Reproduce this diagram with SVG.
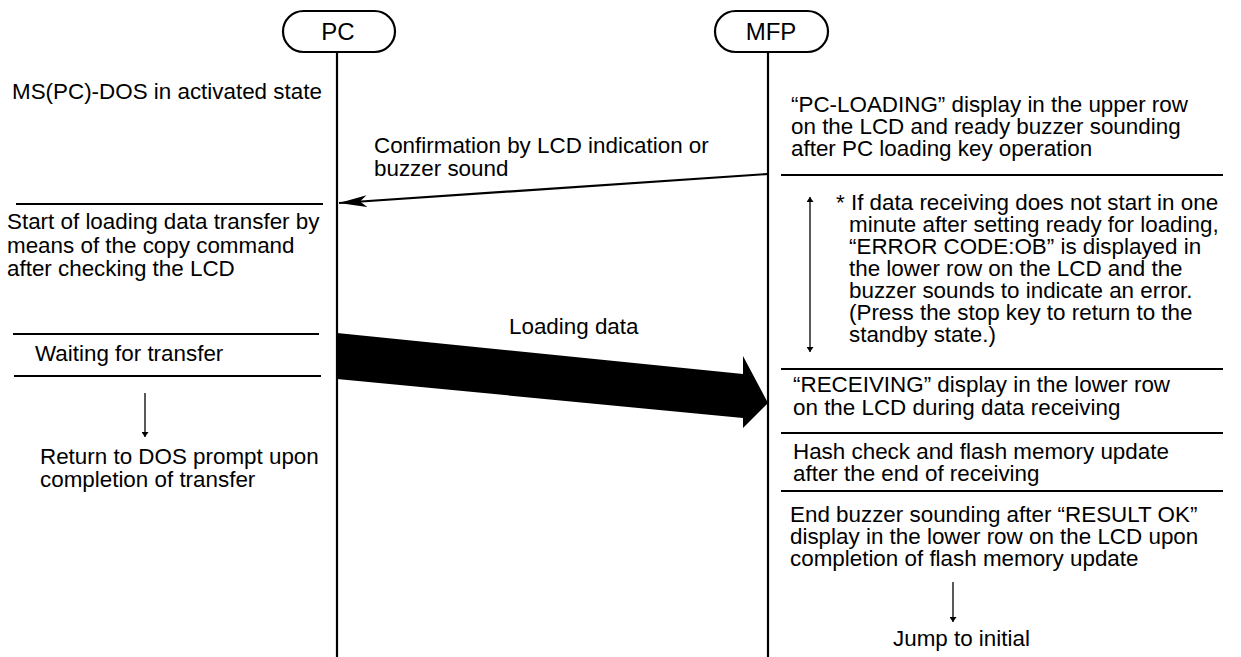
<svg xmlns="http://www.w3.org/2000/svg" width="1241" height="657" viewBox="0 0 1241 657">
<defs>
<style>
text{font-family:"Liberation Sans",Arial,sans-serif;font-size:22.4px;fill:#000}
.life{stroke:#000;stroke-width:2.2;fill:none}
.div{stroke:#000;stroke-width:2.2;fill:none}
.thin{stroke:#000;stroke-width:1.3;fill:none}
.cap{fill:#fff;stroke:#000;stroke-width:2.2}
.lbl{font-size:24px;text-anchor:middle}
</style>
<marker id="ah" viewBox="0 0 10 10" refX="10" refY="5" markerWidth="5" markerHeight="7" markerUnits="userSpaceOnUse" orient="auto-start-reverse" preserveAspectRatio="none">
<path d="M0,0 L10,5 L0,10 z" fill="#000"/>
</marker>
<marker id="ahb" viewBox="0 0 28 12" refX="28" refY="6" markerWidth="28" markerHeight="12" markerUnits="userSpaceOnUse" orient="auto">
<path d="M0,0 L28,6 L0,12 L7,6 z" fill="#000"/>
</marker>
</defs>
<g id="pc-head">
<rect class="cap" x="283" y="11" width="112" height="41" rx="20.5"/>
<text class="lbl" x="338" y="40">PC</text>
</g>
<g id="mfp-head">
<rect class="cap" x="715" y="11" width="113" height="41" rx="20.5"/>
<text class="lbl" x="771" y="40">MFP</text>
</g>
<g id="lifelines">
<line class="life" x1="337" y1="52" x2="337" y2="657"/>
<line class="life" x1="768" y1="52" x2="768" y2="657"/>
</g>
<g id="pc-state1">
<text x="12" y="99">MS(PC)-DOS in activated state</text>
</g>
<g id="pc-state2">
<line class="div" x1="16" y1="204" x2="323" y2="204"/>
<text x="7" y="229">Start of loading data transfer by</text>
<text x="7" y="253">means of the copy command</text>
<text x="7" y="276">after checking the LCD</text>
</g>
<g id="pc-state3">
<line class="div" x1="13" y1="334" x2="319" y2="334"/>
<text x="35" y="361">Waiting for transfer</text>
<line class="div" x1="14" y1="376" x2="321" y2="376"/>
</g>
<g id="pc-state4">
<text x="40" y="464">Return to DOS prompt upon</text>
<text x="40" y="487">completion of transfer</text>
</g>
<g id="mfp-state1">
<text x="791" y="112">“PC-LOADING” display in the upper row</text>
<text x="791" y="134">on the LCD and ready buzzer sounding</text>
<text x="791" y="156">after PC loading key operation</text>
<line class="div" x1="781" y1="175" x2="1223" y2="175"/>
</g>
<g id="mfp-note">
<text x="836" y="210">* If data receiving does not start in one</text>
<text x="849" y="232">minute after setting ready for loading,</text>
<text x="849" y="254">“ERROR CODE:OB” is displayed in</text>
<text x="849" y="276">the lower row on the LCD and the</text>
<text x="849" y="298">buzzer sounds to indicate an error.</text>
<text x="849" y="320">(Press the stop key to return to the</text>
<text x="849" y="342">standby state.)</text>
<line class="div" x1="781" y1="369" x2="1223" y2="369"/>
</g>
<g id="mfp-state2">
<text x="793" y="392">“RECEIVING” display in the lower row</text>
<text x="793" y="415">on the LCD during data receiving</text>
<line class="div" x1="781" y1="433" x2="1223" y2="433"/>
</g>
<g id="mfp-state3">
<text x="793" y="459">Hash check and flash memory update</text>
<text x="793" y="481">after the end of receiving</text>
<line class="div" x1="781" y1="491" x2="1223" y2="491"/>
</g>
<g id="mfp-state4">
<text x="790" y="522">End buzzer sounding after “RESULT OK”</text>
<text x="790" y="544">display in the lower row on the LCD upon</text>
<text x="790" y="566">completion of flash memory update</text>
<text x="893" y="646">Jump to initial</text>
</g>
<g id="connectors">
<line class="div" x1="768" y1="174" x2="339" y2="203" marker-end="url(#ahb)"/>
<text x="374" y="153">Confirmation by LCD indication or</text>
<text x="374" y="176">buzzer sound</text>
<polygon points="337,333 743,374 743,356 768,403 743,428 743,418 337,379" fill="#000"/>
<text x="509" y="334">Loading data</text>
<line class="thin" x1="810" y1="197" x2="810" y2="352" marker-start="url(#ah)" marker-end="url(#ah)"/>
<line class="thin" x1="145" y1="393" x2="145" y2="437" marker-end="url(#ah)"/>
<line class="thin" x1="953" y1="582" x2="953" y2="622" marker-end="url(#ah)"/>
</g>
</svg>
